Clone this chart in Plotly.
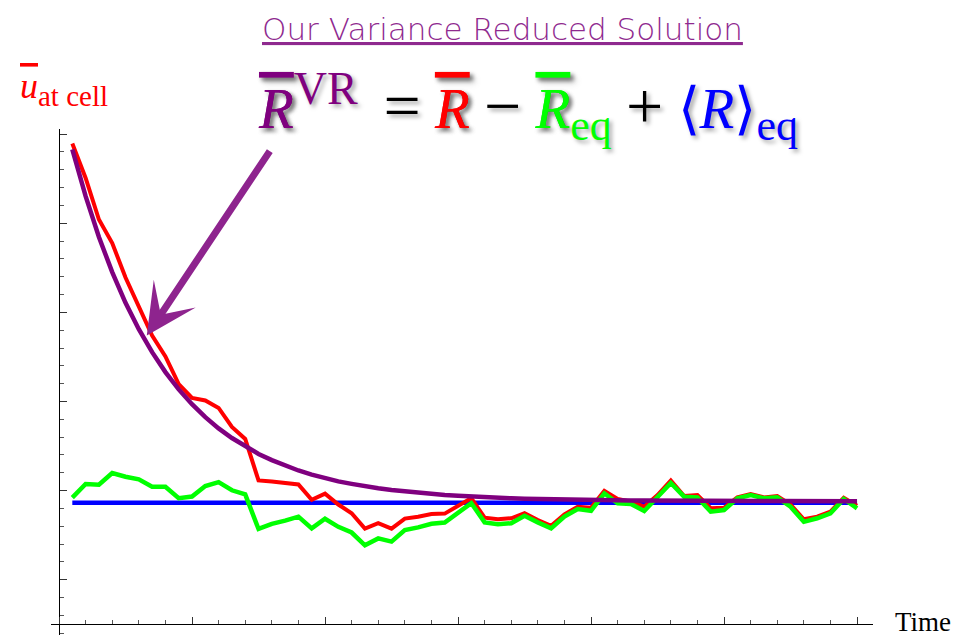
import plotly.graph_objects as go

# ---- data -------------------------------------------------------------
time = [0.5, 1.0, 1.5, 2.0, 2.5, 3.0, 3.5, 4.0, 4.5, 5.0,
        5.5, 6.0, 6.5, 7.0, 7.5, 8.0, 8.5, 9.0, 9.5, 10.0,
        10.5, 11.0, 11.5, 12.0, 12.5, 13.0, 13.5, 14.0, 14.5, 15.0,
        15.5, 16.0, 16.5, 17.0, 17.5, 18.0, 18.5, 19.0, 19.5, 20.0,
        20.5, 21.0, 21.5, 22.0, 22.5, 23.0, 23.5, 24.0, 24.5, 25.0,
        25.5, 26.0, 26.5, 27.0, 27.5, 28.0, 28.5, 29.0, 29.5, 30.0]

# plain estimator R (red)
r_plain = [2.948, 2.754, 2.521, 2.389, 2.196, 2.030, 1.870, 1.753, 1.598, 1.520,
           1.506, 1.464, 1.357, 1.290, 1.057, 1.051, 1.041, 1.035, 0.949, 0.983,
           0.922, 0.873, 0.787, 0.817, 0.787, 0.843, 0.853, 0.869, 0.871, 0.916,
           0.958, 0.848, 0.839, 0.845, 0.873, 0.835, 0.803, 0.867, 0.910, 0.904,
           0.999, 0.953, 0.938, 0.910, 0.975, 1.057, 0.970, 0.975, 0.901, 0.904,
           0.962, 0.981, 0.962, 0.970, 0.922, 0.839, 0.854, 0.882, 0.960, 0.916]

# equilibrium estimator R_eq (green)
r_eq = [0.961, 1.037, 1.033, 1.099, 1.078, 1.063, 1.022, 1.022, 0.958, 0.967,
        1.026, 1.048, 1.002, 0.979, 0.785, 0.814, 0.832, 0.854, 0.788, 0.842,
        0.797, 0.765, 0.693, 0.732, 0.714, 0.779, 0.794, 0.814, 0.821, 0.874,
        0.930, 0.822, 0.811, 0.817, 0.859, 0.822, 0.788, 0.854, 0.897, 0.887,
        0.985, 0.929, 0.925, 0.886, 0.966, 1.043, 0.966, 0.962, 0.882, 0.891,
        0.957, 0.975, 0.957, 0.962, 0.910, 0.825, 0.845, 0.873, 0.953, 0.901]

# variance reduced estimator R^VR (purple)
r_vr = [2.915, 2.652, 2.423, 2.226, 2.054, 1.906, 1.777, 1.665, 1.568, 1.485,
        1.412, 1.349, 1.295, 1.247, 1.206, 1.171, 1.140, 1.113, 1.090, 1.070,
        1.052, 1.038, 1.024, 1.013, 1.003, 0.995, 0.987, 0.981, 0.975, 0.971,
        0.966, 0.963, 0.960, 0.957, 0.955, 0.953, 0.951, 0.949, 0.948, 0.947,
        0.946, 0.946, 0.945, 0.945, 0.944, 0.944, 0.944, 0.943, 0.943, 0.943,
        0.943, 0.942, 0.942, 0.942, 0.942, 0.942, 0.942, 0.941, 0.941, 0.941]

# equilibrium average <R>_eq (blue)
r_eq_avg = 0.932

# ---- layout geometry ----------------------------------------------------
W, H = 968, 635
L, R, T, B = 51, 873, 129, 635          # plot-area edges in pixels
x_range = [-0.301, 30.60]
y_range = [0.190, 3.029]
x_cross = 0.25                           # where the time axis crosses


def paper_x(px):
    return (px - L) / (R - L)


def paper_y(py):
    return (B - py) / (B - T)


fig = go.Figure()

fig.add_trace(go.Scatter(x=[time[0], time[-1]], y=[r_eq_avg, r_eq_avg],
                         mode="lines", line=dict(color="#0000ff", width=4.5)))
fig.add_trace(go.Scatter(x=time, y=r_plain, mode="lines",
                         line=dict(color="#ff0000", width=4)))
fig.add_trace(go.Scatter(x=time, y=r_eq, mode="lines",
                         line=dict(color="#00ff00", width=4.5)))
fig.add_trace(go.Scatter(x=time, y=r_vr, mode="lines",
                         line=dict(color="#7f007f", width=4.5)))

axis_common = dict(showgrid=False, zeroline=False, showticklabels=False,
                   showline=True, linecolor="black", linewidth=1,
                   ticks="inside", tickcolor="#333333", tickwidth=1)

fig.update_xaxes(range=x_range, tick0=0, dtick=5, ticklen=7,
                 anchor="free",
                 position=(x_cross - y_range[0]) / (y_range[1] - y_range[0]),
                 minor=dict(dtick=1, tick0=0, ticks="inside", ticklen=4,
                            tickcolor="#555555", tickwidth=1),
                 **axis_common)
fig.update_yaxes(range=y_range, tick0=0, dtick=0.5, ticklen=7,
                 anchor="free",
                 position=(0 - x_range[0]) / (x_range[1] - x_range[0]),
                 minor=dict(dtick=0.1, tick0=0, ticks="inside", ticklen=4,
                            tickcolor="#555555", tickwidth=1),
                 **axis_common)

shadow = "3px 3px 4px rgba(0,0,0,0.35)"
ov = ('<span style="text-decoration:overline;'
      'text-decoration-thickness:2px">%s</span>')
op = '<span style="font-size:66px">%s</span>'
sp = "\u00a0"

equation = (
    '<span style="color:#7f007f">' + ov % '<i>R</i>' +
    '<sup><span style="font-size:46px">VR</span></sup></span>'
    + sp + '\u2009' + op % '=' + sp +
    '<span style="color:#ff0000">' + ov % '<i>R</i>' + '</span>'
    + sp + op % '\u2212' + sp +
    '<span style="color:#00ff00">' + ov % '<i>R</i>' +
    '<sub><span style="font-size:44px">eq</span></sub></span>'
    + sp + op % '+' + sp +
    '<span style="color:#0000ff">\u27e8<i>R</i>\u27e9'
    '<sub><span style="font-size:44px">eq</span></sub></span>'
)

fig.update_layout(
    width=W, height=H,
    margin=dict(l=L, r=W - R, t=T, b=H - B, pad=0),
    paper_bgcolor="white", plot_bgcolor="white",
    showlegend=False,
    annotations=[
        dict(text="<u>Our Variance Reduced Solution</u>",
             xref="paper", yref="paper", x=paper_x(502), y=paper_y(29),
             xanchor="center", yanchor="middle", showarrow=False,
             font=dict(family="DejaVu Sans", size=31, color="#8f2a8f", weight=200)),
        dict(text=equation,
             xref="paper", yref="paper", x=paper_x(256), y=paper_y(106),
             xanchor="left", yanchor="middle", showarrow=False,
             font=dict(family="Liberation Serif", size=57, color="black",
                       shadow=shadow)),
        dict(text=ov % '<i>u</i>' + '<sub><span style="font-size:29px">at cell</span></sub>',
             xref="paper", yref="paper", x=paper_x(18), y=paper_y(89),
             xanchor="left", yanchor="middle", showarrow=False,
             font=dict(family="Liberation Serif", size=36, color="#ff0000")),
        dict(text="Time",
             xref="paper", yref="paper", x=paper_x(893), y=paper_y(622),
             xanchor="left", yanchor="middle", showarrow=False,
             font=dict(family="Liberation Serif", size=27, color="black")),
        # arrow pointing at the variance reduced curve
        dict(text="", x=3.3, y=1.87, xref="x", yref="y",
             ax=124, ay=-186, axref="pixel", ayref="pixel",
             showarrow=True, arrowhead=3, arrowsize=1.2, arrowwidth=7,
             arrowcolor="#8e248e"),
    ],
)

fig.write_html("out.html")
